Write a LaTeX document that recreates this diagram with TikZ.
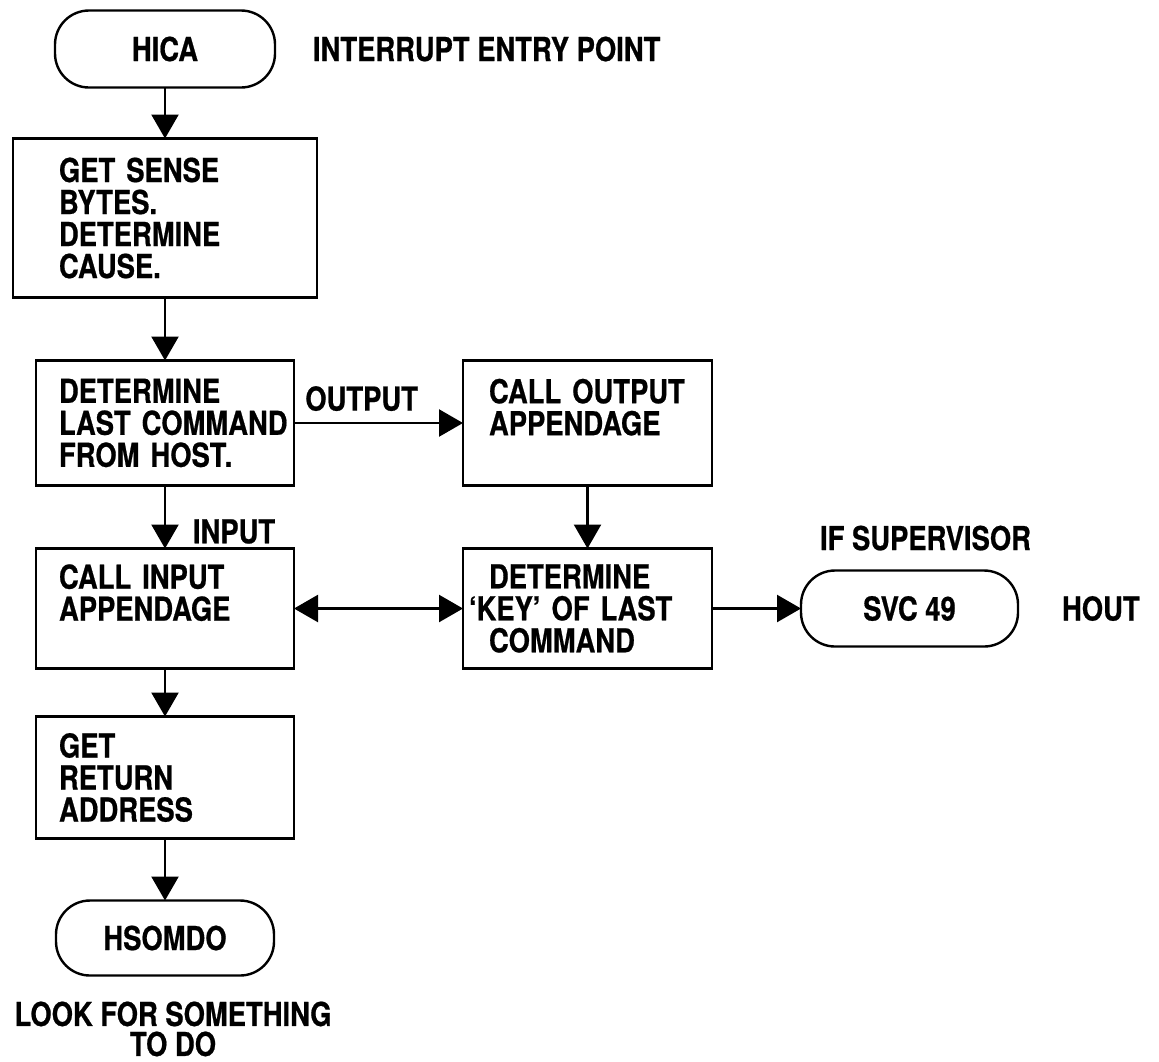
\documentclass[tikz,border=0pt]{standalone}
\usepackage{fontspec}
\setmainfont{TeX Gyre Heros}[FakeStretch=0.83,FakeBold=0.6]
\usetikzlibrary{arrows.meta,positioning}
\hyphenpenalty=10000
\exhyphenpenalty=10000

\begin{document}
\begin{tikzpicture}[
 every node/.style={font=\bfseries\fontsize{16.5}{16}\selectfont,outer sep=0pt},
 proc/.style={draw,line width=1.4pt,inner xsep=11.5pt,inner ysep=4pt,align=left,text width=106pt},
 term/.style={draw,line width=1.2pt,rounded corners=17pt,inner sep=2pt},
 lbl/.style={inner sep=0pt},
 arr/.style={-{Triangle[length=12pt,width=13.5pt]},line width=1.2pt},
 arrboth/.style={{Triangle[length=12pt,width=13.5pt]}-{Triangle[length=12pt,width=13.5pt]},line width=1.2pt}]
 \useasboundingbox (0,0) rectangle (579.5pt,-530.5pt);
 \node[term,minimum width=110pt,minimum height=38.5pt] (hica) at (82.5pt,-24.5pt) {HICA};
 \node[lbl,right=19pt of hica] (entry) {INTERRUPT ENTRY POINT};
 \node[proc,below=25.5pt of hica,inner xsep=23pt,minimum height=79.5pt] (sense) {GET~SENSE\\BYTES.\\DETERMINE\\CAUSE.};
 \node[proc,below=31.5pt of sense,minimum height=62.5pt] (last) {DETERMINE\\LAST~COMMAND\\FROM~HOST.};
 \node[proc,below=31.5pt of last,minimum height=60pt] (inapp) {CALL~INPUT\\APPENDAGE\\\mbox{}};
 \node[proc,below=24pt of inapp,minimum height=61pt] (retaddr) {GET\\RETURN\\ADDRESS};
 \node[term,below=31pt of retaddr,minimum width=109pt,minimum height=37.5pt] (hsomdo) {HSOMDO};
 \node[lbl,below=13pt of hsomdo,xshift=4pt,align=center,font=\bfseries\fontsize{16.5}{15}\selectfont] (look) {LOOK FOR SOMETHING\\TO DO};
 \node[proc,right=84.5pt of last,inner xsep=13pt,text width=98.5pt,minimum height=62.5pt] (outapp) {CALL~OUTPUT\\APPENDAGE\\\mbox{}};
 \node[proc,below=31.5pt of outapp,inner xsep=13pt,text width=98.5pt,minimum height=60pt] (keycmd) {DETERMINE\\\hspace*{-10pt}`KEY'~OF~LAST\\COMMAND};
 \node[term,right=44.5pt of keycmd,minimum width=108.5pt,minimum height=38pt] (svc) {SVC 49};
 \node[lbl,right=22pt of svc] (hout) {HOUT};
 \node[lbl,above=10pt of svc,xshift=8pt] (ifsup) {IF SUPERVISOR};
 \draw[arr] (hica)--(sense);
 \draw[arr] (sense)--(last);
 \draw[arr] (last)--node[lbl,right=14pt,pos=.73] (inlbl) {INPUT} (inapp);
 \draw[arr] (last)--node[lbl,above=6pt,pos=.4] (outlbl) {OUTPUT} (outapp);
 \draw[arr] (outapp)--(keycmd);
 \draw[arrboth] (inapp)--(keycmd);
 \draw[arr] (keycmd)--(svc);
 \draw[arr] (inapp)--(retaddr);
 \draw[arr] (retaddr)--(hsomdo);
\end{tikzpicture}
\end{document}
